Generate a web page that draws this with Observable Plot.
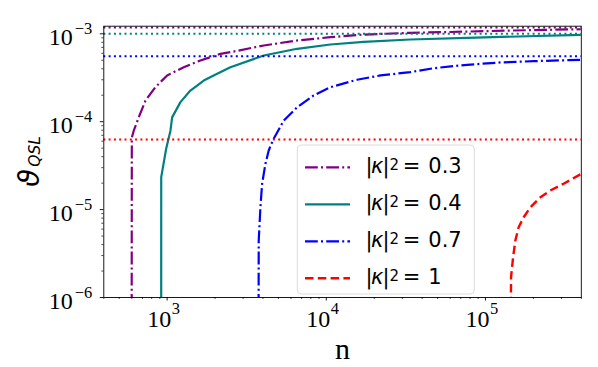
<!DOCTYPE html>
<html>
<head>
<meta charset="utf-8">
<script src="https://cdn.jsdelivr.net/npm/d3@7"></script>
<script src="https://cdn.jsdelivr.net/npm/@observablehq/plot@0.6"></script>
<style>
  html, body { margin: 0; padding: 0; background: #fff; }
  #wrap { position: relative; width: 598px; height: 367px; overflow: hidden; }
  #wrap > svg { position: absolute; left: 0; top: 0; }
</style>
</head>
<body>
<div id="wrap"></div>
<script>
// ---- data ----
const seriesLabels = ["0.3", "0.4", "0.7", "1"];
const seriesColors = ["purple", "teal", "blue", "red"];

// |κ|² = 0.3
const n03 = [597, 600, 617, 663, 731, 844, 1000, 1271, 1618, 2162, 2500, 4046, 6554, 10610, 17180, 33700, 60300, 150000, 400000];
const theta03 = [1e-9, 6.6e-5, 7.9e-5, 1.12e-4, 1.74e-4, 2.47e-4, 3.36e-4, 4.17e-4, 4.97e-4, 5.92e-4, 6.18e-4, 7.36e-4, 8.39e-4, 9.15e-4, 9.8e-4, 1.026e-3, 1.048e-3, 1.09e-3, 1.127e-3];

// |κ|² = 0.4
const n04 = [917, 918, 986, 1049, 1075, 1212, 1400, 1698, 2061, 2498, 4046, 6554, 10610, 17180, 33700, 76600, 400000];
const theta04 = [1e-9, 2.34e-5, 4.92e-5, 7.9e-5, 1.12e-4, 1.67e-4, 2.26e-4, 2.94e-4, 3.51e-4, 4.17e-4, 5.66e-4, 6.75e-4, 7.55e-4, 8.11e-4, 8.61e-4, 9.0e-4, 9.74e-4];

// |κ|² = 0.7
const n07 = [3729, 3762, 3855, 3951, 4146, 4346, 4566, 4672, 5400, 6554, 8335, 10610, 15610, 21900, 33700, 47300, 76600, 124100, 200900, 400000];
const theta07 = [1e-9, 4.45e-6, 1.06e-5, 1.97e-5, 3.32e-5, 4.7e-5, 5.85e-5, 6.39e-5, 1.03e-4, 1.46e-4, 1.99e-4, 2.47e-4, 3.0e-4, 3.36e-4, 3.66e-4, 4.06e-4, 4.44e-4, 4.72e-4, 4.88e-4, 5.06e-4];

// |κ|² = 1
const n1 = [141300, 144800, 149100, 154100, 161600, 173800, 191400, 221300, 255600, 309700, 400000];
const theta1 = [1e-9, 1.70e-6, 2.87e-6, 4.45e-6, 6.31e-6, 8.19e-6, 1.06e-5, 1.38e-5, 1.65e-5, 1.97e-5, 2.55e-5];

// horizontal limits (dotted)
const limits = [1.18e-3, 1.0e-3, 5.56e-4, 6.27e-5];

// ticks
const xMajor = [1e3, 1e4, 1e5];
const xExp = ["3", "4", "5"];
const xMinor = [400, 500, 600, 700, 800, 900, 2000, 3000, 4000, 5000, 6000, 7000, 8000, 9000,
  20000, 30000, 40000, 50000, 60000, 70000, 80000, 90000, 200000, 300000, 400000];
const yMajor = [1e-6, 1e-5, 1e-4, 1e-3];
const yExp = ["\u22126", "\u22125", "\u22124", "\u22123"];
const yMinor = [2e-6, 3e-6, 4e-6, 5e-6, 6e-6, 7e-6, 8e-6, 9e-6,
  2e-5, 3e-5, 4e-5, 5e-5, 6e-5, 7e-5, 8e-5, 9e-5,
  2e-4, 3e-4, 4e-4, 5e-4, 6e-4, 7e-4, 8e-4, 9e-4];

// ---- build table ----
const seriesData = [[n03, theta03], [n04, theta04], [n07, theta07], [n1, theta1]];
const rows = [];
seriesData.forEach(([ns, ts], k) => ns.forEach((n, i) => rows.push({k, n, theta: ts[i]})));

const dashes = ["12.8,3.2,2,3.2", null, "12.8,3.2,2,3.2", "8.5,4.3"];
const widths = [2.2, 2.2, 2.2, 2.4];
const serif = "'Liberation Serif', 'Times New Roman', serif";
const sans = "'DejaVu Sans', sans-serif";

const marks = [];
for (let k = 0; k < 4; k++) {
  marks.push(Plot.line(rows.filter(r => r.k === k), {
    x: "n", y: "theta", stroke: seriesColors[k], strokeWidth: widths[k],
    strokeDasharray: dashes[k] || undefined, strokeLinecap: "butt", strokeLinejoin: "round", clip: true
  }));
  marks.push(Plot.ruleY([limits[k]], {
    stroke: seriesColors[k], strokeWidth: 2, strokeDasharray: "2,3.3", strokeLinecap: "butt"
  }));
}

const plot = Plot.plot({
  width: 598, height: 367,
  marginLeft: 103.3, marginRight: 17.2, marginTop: 25.7, marginBottom: 70,
  x: {type: "log", domain: [400, 4e5]},
  y: {type: "log", domain: [1e-6, 1.22e-3]},
  style: {background: "white", overflow: "visible"},
  marks: [
    ...marks,
    Plot.frame({stroke: "black", strokeWidth: 0.9}),
    Plot.axisX(xMajor, {tickSize: 3.5, strokeWidth: 0.9, tickFormat: () => "", label: null}),
    Plot.axisX(xMinor, {tickSize: 2, strokeWidth: 0.7, tickFormat: () => "", label: null}),
    Plot.axisY(yMajor, {tickSize: 3.5, strokeWidth: 0.9, tickFormat: () => "", label: null}),
    Plot.axisY(yMinor, {tickSize: 2, strokeWidth: 0.7, tickFormat: () => "", label: null}),
    // x tick labels 10^k
    Plot.text(xMajor, {x: d => d, frameAnchor: "bottom", text: () => "10", textAnchor: "end",
      lineAnchor: "bottom", dx: 4, dy: 29.7, fontSize: 24, fontFamily: serif, fill: "black"}),
    Plot.text(xMajor, {x: d => d, frameAnchor: "bottom", text: (d, i) => xExp[i], textAnchor: "start",
      lineAnchor: "bottom", dx: 4.5, dy: 16.5, fontSize: 16.5, fontFamily: serif, fill: "black"}),
    // y tick labels 10^-k
    Plot.text(yMajor, {y: d => d, frameAnchor: "left", text: () => "10", textAnchor: "end",
      lineAnchor: "bottom", dx: -31, dy: 11.5, fontSize: 24, fontFamily: serif, fill: "black"}),
    Plot.text(yMajor, {y: d => d, frameAnchor: "left", text: (d, i) => yExp[i], textAnchor: "start",
      lineAnchor: "bottom", dx: -29, dy: 0, fontSize: 16.5, fontFamily: serif, fill: "black"}),
    // axis labels
    Plot.text(["n"], {frameAnchor: "bottom", text: d => d, lineAnchor: "bottom", dy: 61,
      fontSize: 30, fontFamily: serif, fill: "black"}),
    Plot.text(["\u03D1"], {frameAnchor: "left", text: d => d, rotate: -90, textAnchor: "middle",
      lineAnchor: "bottom", dx: -65.3, dy: 16.2, fontSize: 29, fontStyle: "italic", fontFamily: sans, fill: "black"}),
    Plot.text(["QSL"], {frameAnchor: "left", text: d => d, rotate: -90, textAnchor: "middle",
      lineAnchor: "bottom", dx: -64.3, dy: -10.4, fontSize: 15.5, fontStyle: "italic", fontFamily: sans, fill: "black"})
  ]
});

const wrap = document.getElementById("wrap");
wrap.appendChild(plot);

// ---- legend overlay ----
const leg = d3.select(wrap).append("svg")
  .attr("width", 598).attr("height", 367)
  .style("position", "absolute").style("left", "0px").style("top", "0px");
leg.append("rect")
  .attr("x", 297.3).attr("y", 145).attr("width", 177).attr("height", 149).attr("rx", 4)
  .attr("fill", "white").attr("fill-opacity", 0.8)
  .attr("stroke", "#dcdcdc").attr("stroke-width", 1);
const rowY = [167.3, 204.3, 241.3, 278.3];
seriesLabels.forEach((lab, k) => {
  const y = rowY[k];
  leg.append("line").attr("x1", 305).attr("x2", 350).attr("y1", y).attr("y2", y)
    .attr("stroke", seriesColors[k]).attr("stroke-width", widths[k])
    .attr("stroke-dasharray", dashes[k] || null);
  const base = y + 6;
  const txt = leg.append("text").attr("x", 365.5).attr("y", base)
    .attr("font-family", sans).attr("font-size", 21).attr("fill", "black");
  txt.append("tspan").text("|");
  txt.append("tspan").attr("dx", -1.5).attr("font-style", "italic").text("\u03BA");
  txt.append("tspan").attr("dx", -1).text("|");
  txt.append("tspan").attr("dy", -3.5).attr("font-size", 15).text("2");
  txt.append("tspan").attr("dy", 3.5).attr("dx", 3.7).text("=");
  txt.append("tspan").attr("dx", 7.9).text(lab);
});
</script>
</body>
</html>
